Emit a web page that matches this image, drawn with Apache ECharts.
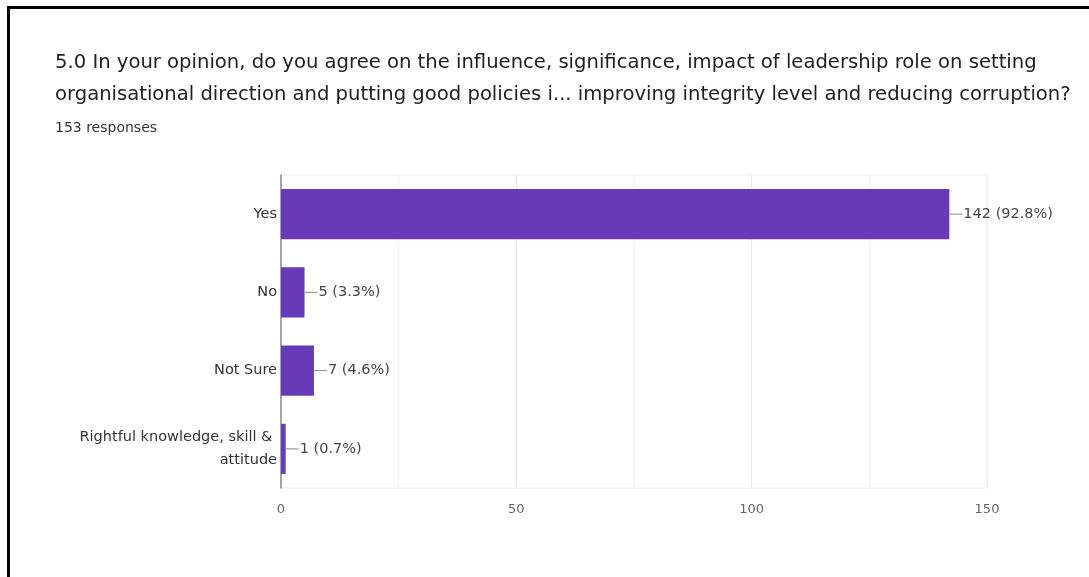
<!DOCTYPE html>
<html>
<head>
<meta charset="utf-8">
<style>
    html, body { margin: 0; padding: 0; background: #fff; }
    #frame { position: absolute; left: 7px; top: 6px; width: 1082px; height: 571px;
             border-left: 3px solid #000; border-top: 3px solid #000; box-sizing: border-box; }
    #main { width: 1089px; height: 577px; }
</style>
<script src="https://cdn.jsdelivr.net/npm/echarts@6/dist/echarts.min.js"></script>
</head>
<body>
<div id="frame"></div>
<div id="main"></div>
<script type="text/javascript">
    var titleText = '5.0 In your opinion, do you agree on the influence, significance, impact of leadership role on setting\norganisational direction and putting good policies i... improving integrity level and reducing corruption?';
    var subText = '153 responses';
    var categories = ['Yes', 'No', 'Not Sure', 'Rightful knowledge, skill & attitude'];
    var counts = [142, 5, 7, 1];
    var percents = ['92.8%', '3.3%', '4.6%', '0.7%'];

    var myChart = echarts.init(document.getElementById('main'));
    var option = {
        animation: false,
        title: {
            text: titleText,
            subtext: subText,
            left: 50,
            top: 42,
            itemGap: 10,
            textStyle: {
                fontFamily: 'DejaVu Sans',
                fontSize: 19.6,
                fontWeight: 'normal',
                color: '#202124',
                lineHeight: 32
            },
            subtextStyle: {
                fontFamily: 'DejaVu Sans',
                fontSize: 14,
                color: '#333'
            }
        },
        grid: {
            left: 281,
            right: 102,
            top: 175,
            bottom: 89,
            show: true,
            borderColor: '#eeeeee',
            borderWidth: 1
        },
        xAxis: {
            type: 'value',
            min: 0,
            max: 150,
            interval: 50,
            axisLine: { show: false },
            axisTick: { show: false },
            axisLabel: { color: '#666', fontSize: 13, fontFamily: 'DejaVu Sans', margin: 15 },
            splitLine: { lineStyle: { color: '#ebebeb' } },
            minorTick: { show: false, splitNumber: 2 },
            minorSplitLine: { show: true, lineStyle: { color: '#f3f3f3' } }
        },
        yAxis: {
            type: 'category',
            inverse: true,
            data: categories,
            axisLine: { show: true, lineStyle: { color: '#8a8a8a', width: 1.5 } },
            axisTick: { show: false },
            axisLabel: {
                color: '#333',
                fontSize: 14.5,
                fontFamily: 'DejaVu Sans',
                margin: 4,
                width: 215,
                overflow: 'break',
                lineHeight: 23
            }
        },
        series: [{
            type: 'bar',
            data: counts,
            barCategoryGap: '36%',
            itemStyle: { color: '#673ab7' },
            label: {
                show: true,
                position: 'right',
                distance: 0,
                formatter: function (p) {
                    return '{l|}{t|' + p.value + ' (' + percents[p.dataIndex] + ')}';
                },
                rich: {
                    l: { width: 13, height: 1, backgroundColor: '#888' },
                    t: { color: '#444', fontSize: 14.5, fontFamily: 'DejaVu Sans', padding: [0, 0, 0, 1] }
                }
            }
        }]
    };
    myChart.setOption(option);
</script>
</body>
</html>
